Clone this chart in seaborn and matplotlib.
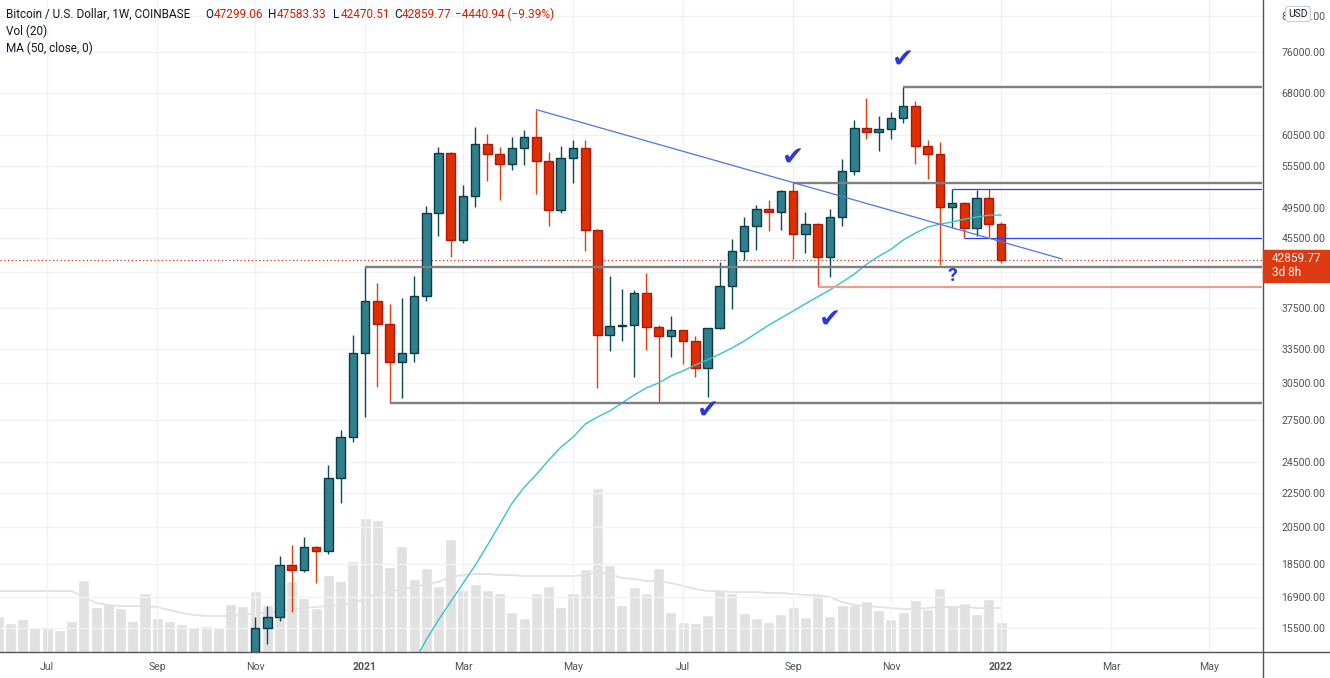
import pandas as pd
import numpy as np
import matplotlib.pyplot as plt
import matplotlib.dates as mdates
from matplotlib.ticker import FixedLocator, FuncFormatter, NullLocator
from matplotlib.patches import Rectangle
from matplotlib.lines import Line2D
import seaborn as sns

# ---------------- data ----------------
# weekly bars start on Mondays
first_week = '2020-06-08'
n_weeks = 83

# weekly volume (relative units, bar heights) Jun 8 2020 .. Jan 3 2022
volume = [36, 29, 33, 24, 24, 22, 31, 72, 45, 48, 44, 31, 59, 34, 31, 28, 25, 26, 25, 48, 46,
          61, 47, 61, 71, 54, 44, 77, 71,
          91, 134, 132, 85, 106, 73, 84, 66, 113, 62, 68, 62, 59, 40, 34, 59, 66, 45, 59, 83,
          164, 87, 47, 65, 59, 84, 40, 30,
          29, 37, 62, 59, 39, 34, 30, 38, 45, 35, 58, 36, 47, 47, 51, 42, 33, 40, 52, 43, 64,
          47, 49, 38, 53, 30]
# Vol (20) moving average, same units
volume_ma = [61, 61, 61, 61, 61, 61, 61, 55, 49, 47, 46, 46, 46, 45, 42, 39, 37, 36, 36, 36,
             37, 39, 39, 40, 43, 44, 45, 46, 47, 49, 53, 59, 60, 63, 65, 68, 70, 75, 77, 78,
             78, 77, 77, 76, 76, 76, 76, 76, 77, 80, 78, 74, 73, 71, 71, 69, 66, 63, 61, 61,
             60, 60, 60, 59, 59, 58, 57, 57, 55, 50, 47, 46, 45, 44, 43, 43, 44, 45, 45, 45,
             44, 44, 44]

# candles from week of Nov 2 2020 (lower ones sit below the visible range)
candle_start = '2020-11-02'
opens = [13730, 15480, 15960, 18450, 18200, 19380, 19200, 23460, 26290, 33140,
         38250, 35900, 32320, 33140, 38780, 48780, 57570, 45270, 51120, 59020,
         57410, 55850, 58370, 60170, 56310, 49180, 56780, 58370, 46540, 34830,
         35700, 35790, 39100, 35600, 34720, 35310, 34250, 31790, 35500, 39870,
         43920, 47060, 49320, 48910, 51830, 46030, 47320, 43190, 48240, 54780,
         61690, 61010, 61520, 63420, 65550, 58700, 57410, 49600, 50150, 46800,
         50840, 47299.06]
highs = [15960, 16470, 18900, 19480, 19920, 19440, 24300, 26800, 34830, 42020,
         40200, 37930, 38570, 41000, 49730, 58530, 57730, 52700, 61800, 60670,
         58530, 60170, 61350, 64900, 57730, 58700, 59680, 59600, 46670, 40990,
         39540, 39430, 41330, 35800, 36700, 35350, 34720, 35500, 42600, 45390,
         48240, 49870, 50560, 51970, 52950, 48910, 47450, 49320, 56630, 63070,
         67000, 63770, 64480, 69000, 66470, 59680, 59350, 52120, 50290, 51970,
         52100, 47583.33]
lows = [13200, 14830, 15800, 16200, 18110, 17570, 19010, 21890, 25900, 27760,
        30160, 28860, 29260, 32320, 38250, 45770, 43190, 44950, 49600, 53290,
        50560, 54930, 55690, 51400, 47060, 48800, 52990, 43920, 30080, 33320,
        34250, 31010, 33410, 28860, 32770, 32140, 31010, 29340, 35400, 37410,
        42840, 44040, 46410, 46540, 42950, 43670, 39760, 40870, 47060, 54180,
        59850, 57890, 59850, 62540, 55850, 53580, 42300, 46800, 45520, 45770,
        45650, 42470.51]
closes = [15480, 15960, 18450, 18200, 19380, 19200, 23460, 26290, 33140, 38250,
          35900, 32320, 33140, 38780, 48780, 57570, 45270, 51120, 59020, 57410,
          55850, 58370, 60170, 56310, 49180, 56780, 58370, 46540, 34830, 35700,
          35790, 39100, 35600, 34720, 35310, 34250, 31790, 35500, 39870, 43920,
          47060, 49320, 48910, 51830, 46030, 47320, 43190, 48240, 54780, 61690,
          61010, 61520, 63420, 65550, 58700, 57410, 49600, 50150, 46800, 50840,
          47320, 42859.77]

# MA (50, close) from week of Feb 1 2021
ma_start = '2021-02-01'
ma50 = [14110, 15000, 15850, 16670, 17530, 18430, 19480, 20630, 21860, 22860,
        23690, 24640, 25540, 26260, 27230, 27760, 28230, 28860, 29500, 30090,
        30500, 31100, 31540, 32060, 32500, 33040, 33600, 34250, 35010, 35790,
        36490, 37210, 37950, 38700, 39430, 40300, 41200, 42330, 43280, 44120,
        45270, 46150, 46920, 47310, 47570, 47970, 48230, 48500, 48500]

# drawn levels: horizontal rays from a candle to the right edge
grey_ray_dates = ['2021-01-04', '2021-01-18', '2021-09-06', '2021-11-08']
grey_ray_levels = [42020, 28860, 52950, 69000]
blue_ray_dates = ['2021-12-06', '2021-12-13']
blue_ray_levels = [52120, 45520]
red_ray_dates = ['2021-09-20']
red_ray_levels = [39760]
trend_dates = ['2021-04-12', '2022-02-07']
trend_levels = [64900, 42960]
check_dates = ['2021-11-08', '2021-09-06', '2021-09-27', '2021-07-19']
check_levels = [74430, 56780, 36200, 28150]
question_date = '2021-12-06'
question_level = 40990

# 41500 sits under the price tag: grid line only, no label
grid_levels = [15500, 16900, 18500, 20500, 22500, 24500, 27500, 30500, 33500, 37500,
               41500, 45500, 49500, 55500, 60500, 68000, 76000, 84000]
price_ticks = [15500, 16900, 18500, 20500, 22500, 24500, 27500, 30500, 33500, 37500,
               45500, 49500, 55500, 60500, 68000, 76000, 84000]
month_ticks = ['2020-07-06', '2020-09-07', '2020-11-02', '2021-01-04', '2021-03-01',
               '2021-05-03', '2021-07-05', '2021-09-06', '2021-11-01', '2022-01-03',
               '2022-03-07', '2022-05-02']
month_labels = ['Jul', 'Sep', 'Nov', '2021', 'Mar', 'May', 'Jul', 'Sep', 'Nov', '2022',
                'Mar', 'May']

# header pieces: (text, is_value)
header = [('Bitcoin / U.S. Dollar, 1W, COINBASE', False),
          ('O', False), ('47299.06', True),
          ('H', False), ('47583.33', True),
          ('L', False), ('42470.51', True),
          ('C', False), ('42859.77', True),
          ('\u22124440.94 (\u22129.39%)', True)]

# ---------------- style ----------------
sns.set_theme(style="white")
plt.rcParams['font.family'] = ['Roboto', 'DejaVu Sans']

UP, UP_EDGE, UP_WICK = '#2f7f8c', '#0b3b46', '#0e4a55'
DN, DN_EDGE, DN_WICK = '#dc3002', '#b0160a', '#e2400f'
TXT = '#50535e'
GRID = '#f0f2f6'
RED = '#cc2200'

W, H = 1330, 678
fig = plt.figure(figsize=(W / 100, H / 100), dpi=100)
rect = [0, 26 / H, 1262 / W, 652 / H]
ax_vol = fig.add_axes(rect)
ax = fig.add_axes(rect)
ax.patch.set_alpha(0)

weeks = mdates.date2num(pd.date_range(first_week, periods=n_weeks, freq='7D'))
cx = mdates.date2num(pd.date_range(candle_start, periods=len(opens), freq='7D'))
mx = mdates.date2num(pd.date_range(ma_start, periods=len(ma50), freq='7D'))
x0 = mdates.date2num(pd.Timestamp('2020-11-02')) - 146.0
x1 = mdates.date2num(pd.Timestamp('2022-01-03')) + 149.4

# volume pane (own scale)
ax_vol.bar(weeks, volume, width=6.3, color='#e1e1e1', zorder=1)
sns.lineplot(x=weeks, y=volume_ma, ax=ax_vol, color='#e2e2e2', lw=1.3, zorder=2)
ax_vol.set_xlim(x0, x1)
ax_vol.set_ylim(0, 652)
ax_vol.set_axis_off()

# price pane
ax.set_yscale('log')
for g in grid_levels:
    ax.axhline(g, color=GRID, lw=1.0, zorder=0)
o = np.array(opens); h = np.array(highs); l = np.array(lows); c = np.array(closes)
up = c >= o
lo = np.minimum(o, c); hi = np.maximum(o, c)
ax.vlines(cx[up], l[up], h[up], color=UP_WICK, lw=1.0, zorder=3)
ax.vlines(cx[~up], l[~up], h[~up], color=DN_WICK, lw=1.0, zorder=3)
ax.bar(cx[up], hi[up] - lo[up], bottom=lo[up], width=4.9, color=UP,
       edgecolor=UP_EDGE, lw=1.0, zorder=4)
ax.bar(cx[~up], hi[~up] - lo[~up], bottom=lo[~up], width=4.9, color=DN,
       edgecolor=DN_EDGE, lw=1.0, zorder=4)

sns.lineplot(x=mx, y=ma50, ax=ax, color='#38c2ce', lw=1.0, zorder=5)

# level rays
for d, v in zip(grey_ray_dates, grey_ray_levels):
    ax.hlines(v, mdates.date2num(pd.Timestamp(d)), x1, color='#7f7f7f', lw=1.7, zorder=6)
for d, v in zip(blue_ray_dates, blue_ray_levels):
    ax.hlines(v, mdates.date2num(pd.Timestamp(d)), x1, color='#2b3ff0', lw=0.9, zorder=6)
for d, v in zip(red_ray_dates, red_ray_levels):
    ax.hlines(v, mdates.date2num(pd.Timestamp(d)), x1, color='#f0998c', lw=1.5, zorder=6)
ax.plot(mdates.date2num(pd.to_datetime(trend_dates)), trend_levels, color='#4a78e0',
        lw=0.9, zorder=6)

# last price line
ax.axhline(closes[-1], color='#d5391a', lw=0.9, ls=(0, (1, 2)), zorder=2)

# annotations
for d, v in zip(check_dates, check_levels):
    ax.text(mdates.date2num(pd.Timestamp(d)), v, '\u2714', color='#2b3ad6', fontsize=19,
            ha='center', va='center', family=['DejaVu Sans'], zorder=7)
ax.text(mdates.date2num(pd.Timestamp(question_date)), question_level, '?', color='#2b3ad6',
        fontsize=14, fontweight='bold', ha='center', va='center', zorder=7)

ax.set_xlim(x0, x1)
ax.set_ylim(14506, 87860)

# axes, ticks, grid
ax.yaxis.tick_right()
ax.yaxis.set_major_locator(FixedLocator(price_ticks))
ax.yaxis.set_minor_locator(NullLocator())
ax.yaxis.set_major_formatter(FuncFormatter(lambda v, p: f'{v:.2f}'))
ax.set_xticks(mdates.date2num(pd.to_datetime(month_ticks)))
ax.set_xticklabels(month_labels)
for t in ax.get_xticklabels():
    if t.get_text() in ('2021', '2022'):
        t.set_fontweight('bold')
ax.tick_params(axis='y', length=0, pad=14, labelsize=7.6, labelcolor=TXT)
ax.tick_params(axis='x', length=0, pad=7, labelsize=7.6, labelcolor=TXT)
ax.grid(False)
for xt in ax.get_xticks():
    ax.axvline(xt, color=GRID, lw=1.0, zorder=0)
for s in ['top', 'left', 'right', 'bottom']:
    ax.spines[s].set_visible(False)
fig.add_artist(Line2D([1262.5 / W, 1262.5 / W], [0, 1], color=TXT, lw=1.0))
fig.add_artist(Line2D([0, 1], [26 / H, 26 / H], color=TXT, lw=1.0))

# header, pieces placed at the positions seen on the chart (pixels from left)
HFS = 8.5
header_x = [6, 205, 214, 268, 277, 333, 341, 394, 402, 455]
for (s, is_val), hx in zip(header, header_x):
    fig.text(hx / W, 1 - 14 / H, s, color=RED if is_val else '#131722', fontsize=HFS,
             va='center', ha='left')
fig.text(6 / W, 1 - 31 / H, 'Vol (20)', color='#131722', fontsize=HFS, va='center')
fig.text(6 / W, 1 - 48 / H, 'MA (50, close, 0)', color='#131722', fontsize=HFS, va='center')

# price tag on the axis
fig.canvas.draw()
yp = ax.transData.transform((x0, closes[-1]))[1]
fig.add_artist(Rectangle((1263 / W, (yp - 22) / H), 66 / W, 32 / H,
                         transform=fig.transFigure, color='#dc3a12', zorder=10))
fig.text(1272 / W, (yp + 1) / H, f'{closes[-1]:.2f}', color='white', fontsize=8.5,
         va='center', ha='left', zorder=11)
fig.text(1272 / W, (yp - 13) / H, '3d 8h', color='white', fontsize=8.5,
         va='center', ha='left', zorder=11)

# currency badge (covers the middle of the top price label, as on the chart)
fig.text(1298 / W, 1 - 14 / H, 'USD', color='#131722', fontsize=7.4, ha='center',
         va='center', zorder=11,
         bbox=dict(boxstyle='round,pad=0.25', fc='white', ec='#c9ccd4', lw=0.8))

fig.savefig('out.png', dpi=100)
